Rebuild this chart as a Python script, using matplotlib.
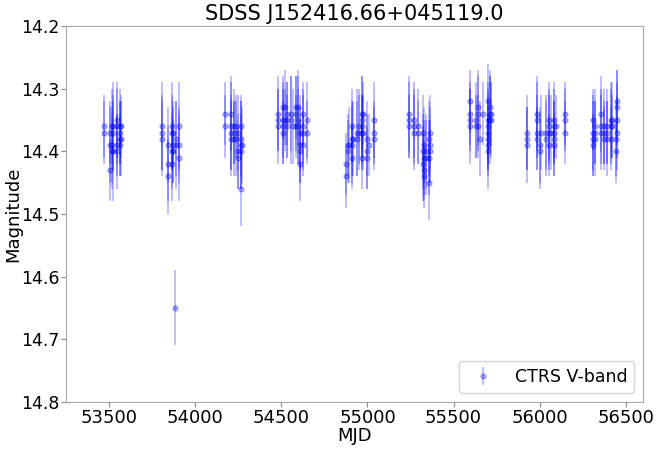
import matplotlib
matplotlib.use("Agg")
from matplotlib import pyplot as plt
import numpy as np

# light curve
mjd = [53470, 53470,
       53503, 53503, 53503, 53513, 53513, 53513, 53522, 53522, 53522,
       53542, 53542, 53542, 53542, 53561, 53561, 53561, 53561, 53567, 53567,
       53805, 53805, 53805, 53838, 53838, 53838, 53863, 53863, 53863, 53863,
       53872, 53872, 53872, 53880, 53886, 53886, 53907, 53907, 53907,
       54174, 54174, 54209, 54209, 54209, 54209, 54224, 54224, 54224,
       54238, 54238, 54247, 54247, 54247, 54263, 54263, 54263, 54263, 54263, 54270,
       54479, 54479, 54479, 54508, 54508, 54508, 54508, 54518, 54518,
       54531, 54531, 54531, 54557, 54557, 54566, 54586, 54586, 54586,
       54595, 54595, 54595, 54605, 54605, 54605, 54605, 54624, 54624, 54624, 54624,
       54647, 54647,
       54874, 54874, 54887, 54887, 54893, 54912, 54912, 54912, 54912, 54918,
       54941, 54941, 54951, 54951, 54970, 54970, 54970, 54970, 54970, 54976, 54976,
       54999, 54999, 54999, 55008, 55038, 55038, 55038,
       55239, 55239, 55239, 55268, 55268, 55268, 55291, 55291,
       55320, 55320, 55320, 55330, 55330, 55330, 55330, 55340, 55340,
       55355, 55355, 55355, 55365, 55365, 55365,
       55595, 55595, 55595, 55595, 55630, 55630, 55645, 55645, 55645, 55655, 55674,
       55703, 55703, 55703, 55703, 55703, 55703, 55703, 55711, 55711, 55711,
       55717, 55717,
       55926, 55926, 55926, 55984, 55984, 55984, 55984, 56001, 56001, 56011,
       56036, 56036, 56055, 56055, 56055, 56055, 56065,
       56084, 56084, 56084, 56084, 56084, 56094, 56148, 56148, 56148,
       56310, 56310, 56310, 56310, 56322, 56322, 56322, 56360, 56360, 56360,
       56374, 56374, 56374, 56393, 56393, 56393, 56413, 56413, 56413,
       56422, 56422, 56442, 56442, 56451, 56451, 56451, 56451]

mag = [14.36, 14.37,
       14.37, 14.39, 14.43, 14.36, 14.39, 14.40, 14.36, 14.37, 14.40,
       14.35, 14.36, 14.39, 14.40, 14.36, 14.37, 14.38, 14.39, 14.36, 14.38,
       14.36, 14.37, 14.38, 14.39, 14.42, 14.44, 14.36, 14.37, 14.40, 14.42,
       14.37, 14.39, 14.40, 14.65, 14.38, 14.39, 14.36, 14.39, 14.41,
       14.34, 14.36, 14.34, 14.36, 14.37, 14.38, 14.36, 14.37, 14.38,
       14.36, 14.38, 14.37, 14.40, 14.41, 14.36, 14.38, 14.39, 14.40, 14.46, 14.39,
       14.34, 14.35, 14.36, 14.33, 14.35, 14.36, 14.37, 14.33, 14.35,
       14.34, 14.35, 14.36, 14.34, 14.35, 14.36, 14.33, 14.34, 14.36,
       14.33, 14.35, 14.36, 14.37, 14.39, 14.40, 14.42, 14.34, 14.36, 14.37, 14.39,
       14.35, 14.37,
       14.42, 14.44, 14.39, 14.40, 14.39, 14.36, 14.38, 14.39, 14.41, 14.38,
       14.37, 14.38, 14.36, 14.37, 14.34, 14.35, 14.36, 14.37, 14.41, 14.34, 14.37,
       14.38, 14.40, 14.41, 14.39, 14.35, 14.37, 14.38,
       14.34, 14.35, 14.36, 14.35, 14.36, 14.37, 14.36, 14.37,
       14.37, 14.40, 14.42, 14.39, 14.41, 14.43, 14.44, 14.40, 14.41,
       14.38, 14.41, 14.45, 14.37, 14.39, 14.40,
       14.32, 14.34, 14.35, 14.36, 14.35, 14.36, 14.33, 14.34, 14.36, 14.38, 14.34,
       14.32, 14.35, 14.36, 14.37, 14.38, 14.39, 14.40, 14.33, 14.34, 14.35,
       14.34, 14.35,
       14.37, 14.38, 14.39, 14.34, 14.35, 14.37, 14.38, 14.39, 14.40, 14.37,
       14.37, 14.38, 14.35, 14.36, 14.37, 14.39, 14.37,
       14.35, 14.36, 14.37, 14.38, 14.39, 14.36, 14.34, 14.35, 14.37,
       14.35, 14.37, 14.38, 14.39, 14.36, 14.37, 14.38, 14.34, 14.36, 14.37,
       14.36, 14.37, 14.38, 14.36, 14.37, 14.38, 14.35, 14.36, 14.38,
       14.35, 14.36, 14.38, 14.40, 14.32, 14.33, 14.35, 14.37]

err = [0.05, 0.05,
       0.05, 0.06, 0.05, 0.06, 0.06, 0.06, 0.07, 0.06, 0.08,
       0.06, 0.06, 0.05, 0.06, 0.06, 0.05, 0.06, 0.05, 0.05, 0.06,
       0.07, 0.06, 0.06, 0.06, 0.06, 0.06, 0.07, 0.06, 0.06, 0.06,
       0.05, 0.06, 0.05, 0.06, 0.06, 0.07, 0.07, 0.06, 0.07,
       0.05, 0.05, 0.06, 0.07, 0.06, 0.06, 0.06, 0.05, 0.06,
       0.05, 0.06, 0.06, 0.06, 0.05, 0.05, 0.06, 0.07, 0.06, 0.06, 0.06,
       0.06, 0.05, 0.06, 0.05, 0.06, 0.06, 0.05, 0.06, 0.05,
       0.05, 0.06, 0.05, 0.06, 0.07, 0.06, 0.05, 0.06, 0.05,
       0.06, 0.07, 0.06, 0.06, 0.06, 0.05, 0.06, 0.05, 0.06, 0.06, 0.05,
       0.06, 0.05,
       0.05, 0.05, 0.05, 0.05, 0.06, 0.06, 0.06, 0.06, 0.05, 0.06,
       0.07, 0.06, 0.06, 0.06, 0.06, 0.07, 0.05, 0.06, 0.05, 0.05, 0.06,
       0.06, 0.06, 0.05, 0.05, 0.06, 0.05, 0.05,
       0.06, 0.06, 0.05, 0.06, 0.06, 0.06, 0.06, 0.05,
       0.06, 0.06, 0.06, 0.06, 0.06, 0.05, 0.05, 0.06, 0.06,
       0.06, 0.06, 0.06, 0.06, 0.06, 0.05,
       0.05, 0.05, 0.05, 0.06, 0.06, 0.05, 0.06, 0.06, 0.05, 0.06, 0.05,
       0.06, 0.06, 0.06, 0.06, 0.05, 0.05, 0.06, 0.06, 0.06, 0.07,
       0.05, 0.06,
       0.06, 0.05, 0.06, 0.06, 0.06, 0.06, 0.05, 0.06, 0.06, 0.06,
       0.06, 0.06, 0.06, 0.06, 0.06, 0.05, 0.06,
       0.06, 0.06, 0.05, 0.06, 0.05, 0.05, 0.05, 0.05, 0.05,
       0.05, 0.06, 0.06, 0.05, 0.06, 0.05, 0.06, 0.06, 0.06, 0.06,
       0.06, 0.05, 0.05, 0.06, 0.05, 0.06, 0.06, 0.06, 0.05,
       0.06, 0.05, 0.06, 0.05, 0.05, 0.06, 0.06, 0.06]

title = 'SDSS J152416.66+045119.0'
label = 'CTRS V-band'

fig = plt.figure(figsize=(6.64, 4.49), dpi=100)
ax = fig.add_axes([0.1, 0.105, 0.868, 0.837])

ax.errorbar(mjd, mag, yerr=err, fmt='o', color='b', ms=3.5,
            elinewidth=1.2, alpha=0.3, label=label)

ax.set_xlim(53250, 56600)
ax.set_ylim(14.8, 14.2)
ax.set_xticks([53500, 54000, 54500, 55000, 55500, 56000, 56500])
ax.set_yticks([14.2, 14.3, 14.4, 14.5, 14.6, 14.7, 14.8])
ax.tick_params(axis='x', labelsize=13, color='#888888', pad=2)
ax.tick_params(axis='y', labelsize=12.5, color='#888888', pad=1.5)
for s in ax.spines.values():
    s.set_color('#aaaaaa')

ax.set_xlabel('MJD', fontsize=13, labelpad=0)
ax.set_ylabel('Magnitude', fontsize=13)
ax.yaxis.set_label_coords(-0.076, 0.5)
ax.set_title(title, fontsize=15, pad=4)
ax.legend(loc='lower right', fontsize=12.5)

fig.savefig('out.png', dpi=100)
